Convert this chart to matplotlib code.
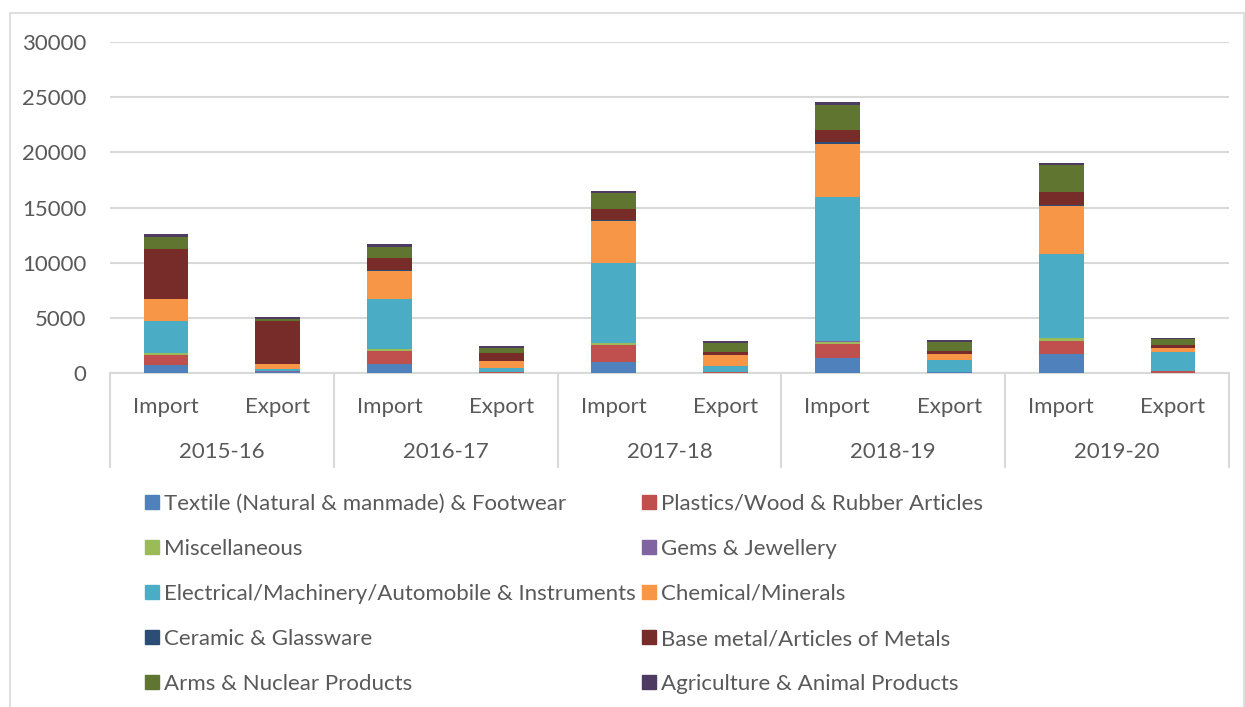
import matplotlib.pyplot as plt
from matplotlib.lines import Line2D
from matplotlib.patches import Rectangle
import numpy as np

plt.rcParams["font.family"] = ["Lato", "DejaVu Sans"]

years = ["2015-16", "2016-17", "2017-18", "2018-19", "2019-20"]
flows = ["Import", "Export"]

series_names = [
    "Textile (Natural & manmade) & Footwear",
    "Plastics/Wood & Rubber Articles",
    "Miscellaneous",
    "Gems & Jewellery",
    "Electrical/Machinery/Automobile & Instruments",
    "Chemical/Minerals",
    "Ceramic & Glassware",
    "Base metal/Articles of Metals",
    "Arms & Nuclear Products",
    "Agriculture & Animal Products",
]
series_colors = [
    "#4F81BD", "#C0504D", "#9BBB59", "#8064A2", "#4BACC6",
    "#F79646", "#2C4D75", "#772C2A", "#5F7530", "#4D3B62",
]

# bars in order: I15, E15, I16, E16, I17, E17, I18, E18, I19, E19
textile = [700, 60, 840, 30, 1000, 30, 1330, 50, 1720, 40]
plastics = [950, 40, 1180, 30, 1510, 20, 1270, 20, 1210, 110]
misc = [180, 30, 180, 20, 210, 20, 240, 20, 240, 50]
gems = [20, 10, 20, 10, 20, 10, 30, 10, 30, 10]
electrical = [2840, 260, 4520, 390, 7230, 550, 13110, 1110, 7560, 1660]
chemical = [1990, 400, 2480, 630, 3810, 1030, 4810, 540, 4350, 420]
ceramic = [60, 20, 80, 10, 80, 10, 150, 10, 120, 20]
base_metal = [4500, 3880, 1130, 720, 980, 260, 1060, 240, 1210, 260]
arms = [1120, 230, 1020, 400, 1450, 760, 2300, 780, 2390, 490]
agriculture = [200, 150, 270, 180, 210, 180, 240, 180, 240, 110]

series_values = [textile, plastics, misc, gems, electrical,
                 chemical, ceramic, base_metal, arms, agriculture]

W, H = 1245, 707
text_color = "#595959"
grid_color = "#D9D9D9"
fs = 16

fig = plt.figure(figsize=(W / 100, H / 100), dpi=100)

# outer chart border
fig.patches.append(Rectangle((10 / W, -0.01), (1244 - 10) / W, 1.01 - 13 / H,
                             transform=fig.transFigure, fill=False,
                             edgecolor=grid_color, lw=1.2))

ax = fig.add_axes([110 / W, 1 - 373 / H, (1229 - 110) / W, (373 - 42) / H])

x = np.arange(len(textile))
bottom = np.zeros(len(x))
for name, vals, color in zip(series_names, series_values, series_colors):
    ax.bar(x, vals, width=0.4, bottom=bottom, color=color, label=name, zorder=3)
    bottom += np.array(vals)

ax.set_xlim(-0.5, len(x) - 0.5)
ax.set_ylim(0, 30000)
ax.set_yticks(np.arange(0, 30001, 5000))
ax.yaxis.grid(True, color=grid_color, lw=1.5, zorder=0)
ax.set_xticks([])
for side in ["top", "right", "left"]:
    ax.spines[side].set_visible(False)
ax.spines["bottom"].set_color(grid_color)
ax.spines["bottom"].set_linewidth(1.5)
ax.tick_params(axis="y", length=0, pad=17, labelsize=fs, labelcolor=text_color)

# two-level category axis
trans = ax.get_xaxis_transform()
px = 1 / (373 - 42)
for i in x:
    ax.text(i, -32 * px, flows[i % 2], transform=trans, ha="center",
            va="center_baseline", fontsize=fs, color=text_color)
for j, yr in enumerate(years):
    ax.text(2 * j + 0.5, -77 * px, yr, transform=trans, ha="center",
            va="center_baseline", fontsize=fs, color=text_color)
for xs in np.arange(-0.5, len(x), 2):
    ax.add_line(Line2D([xs, xs], [0, -94 * px], transform=trans, color=grid_color,
                       lw=1.5, clip_on=False))

# legend, two columns
col_x = [145, 642]
row_y = [502, 547, 592, 637, 682]
for k, (name, color) in enumerate(zip(series_names, series_colors)):
    cx = col_x[k % 2]
    cy = row_y[k // 2]
    fig.patches.append(Rectangle((cx / W, 1 - (cy + 7) / H), 14 / W, 14 / H,
                                 transform=fig.transFigure, color=color))
    fig.text((cx + 19) / W, 1 - cy / H, name, ha="left", va="center_baseline",
             fontsize=fs, color=text_color)

fig.savefig("out.png", dpi=100)
